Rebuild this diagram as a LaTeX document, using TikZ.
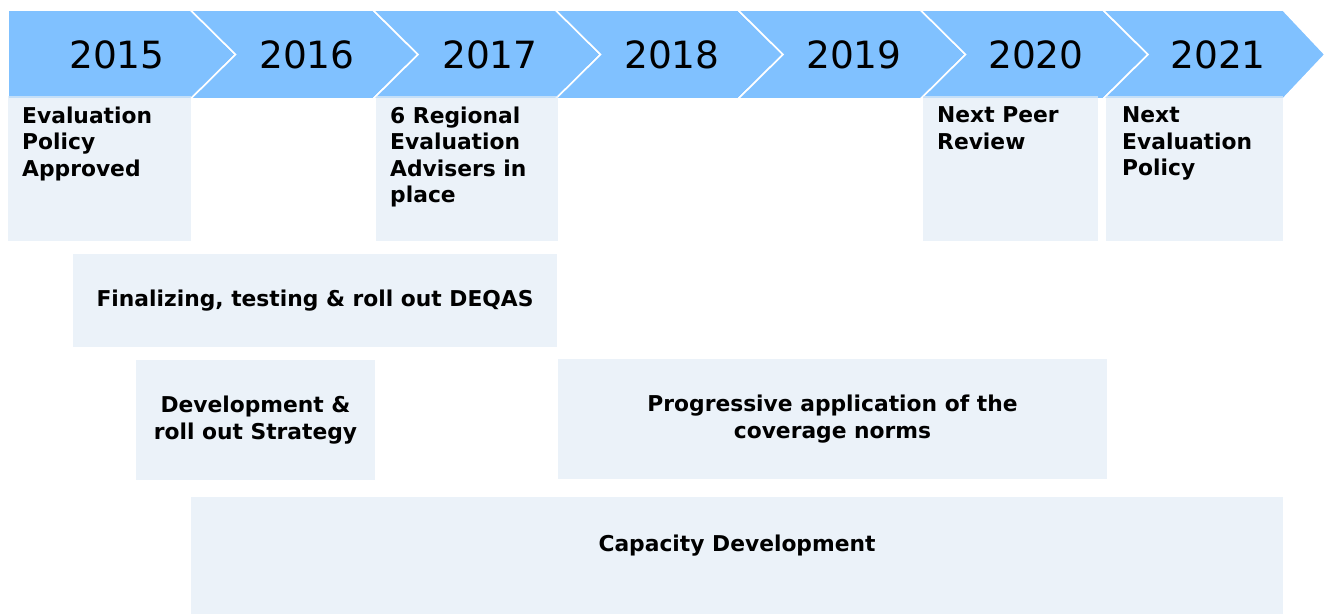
\documentclass[tikz,border=0pt]{standalone}
\usepackage{fontspec}
\setmainfont{DejaVu Sans}
\definecolor{chev}{HTML}{80C1FF}
\definecolor{boxc}{RGB}{226,236,246}
\begin{document}
\begin{tikzpicture}[x=1pt,y=-1pt,
  chevshape/.style={fill=chev,draw=white,line width=1.6pt,line join=miter},
  yearlbl/.style={font=\fontsize{37.5}{40}\selectfont,inner sep=0pt,anchor=center},
  bx/.style={fill=boxc,fill opacity=0.7,draw=none,inner sep=0pt,text opacity=1},
  topbox/.style={bx},
  toptxt/.style={font=\fontsize{21.8}{26.5}\selectfont\bfseries,align=left,inner sep=0pt,anchor=north west},
  midtxt/.style={font=\fontsize{21.8}{26.5}\selectfont\bfseries,align=center,inner sep=0pt}]
\useasboundingbox (0,0) rectangle (1324,614);
% chevrons
\path[chevshape] (8,10) -- (190.5,10) -- (235.5,54.5) -- (190.5,99) -- (8,99) -- cycle;
\foreach \i in {1,...,5}{
  \pgfmathsetmacro{\xa}{8+182.5*\i}
  \pgfmathsetmacro{\xb}{8+182.5*(\i+1)}
  \path[chevshape] (\xa,10) -- (\xb,10) -- ({\xb+45},54.5) -- (\xb,99) -- (\xa,99) -- ({\xa+45},54.5) -- cycle;
}
\path[chevshape] (1103,10) -- (1283,10) -- (1325,54.5) -- (1283,99) -- (1103,99) -- (1148,54.5) -- cycle;
% year labels
\node[yearlbl] (y15) at (117,54.5) {2015};
\node[yearlbl] (y16) at (307,54.5) {2016};
\node[yearlbl] (y17) at (490,54.5) {2017};
\node[yearlbl] (y18) at (672,54.5) {2018};
\node[yearlbl] (y19) at (854,54.5) {2019};
\node[yearlbl] (y20) at (1036,54.5) {2020};
\node[yearlbl] (y21) at (1218,54.5) {2021};
% top boxes
\node[topbox,minimum width=183pt,minimum height=145pt] (b15) at (99.5,168.5) {};
\node[topbox,minimum width=182pt,minimum height=145pt] (b17) at (467,168.5) {};
\node[topbox,minimum width=175pt,minimum height=145pt] (b20) at (1010.5,168.5) {};
\node[topbox,minimum width=177pt,minimum height=145pt] (b21) at (1194.5,168.5) {};
\node[toptxt] (t15) at (22,106.5) {Evaluation\\Policy\\Approved};
\node[toptxt] (t17) at (390,106.5) {6 Regional\\Evaluation\\Advisers in\\place};
\node[toptxt] (t20) at (937,106.5) {Next Peer\\Review};
\node[toptxt] (t21) at (1122,106.5) {Next\\Evaluation\\Policy};
% bars
\node[bx,minimum width=484pt,minimum height=93pt] (fin) at (315,300.5) {};
\node[midtxt] (tfin) at (fin.center) {Finalizing, testing \& roll out DEQAS};
\node[bx,minimum width=239pt,minimum height=120pt] (dev) at (255.5,420) {};
\node[midtxt] (tdev) at (dev.center) {Development \&\\roll out Strategy};
\node[bx,minimum width=549pt,minimum height=120pt] (prog) at (832.5,419) {};
\node[midtxt] (tprog) at (prog.center) {Progressive application of the\\coverage norms};
\node[bx,minimum width=1092pt,minimum height=117pt] (cap) at (737,555.5) {};
\node[midtxt] (tcap) at (737,545.5) {Capacity Development};
\end{tikzpicture}
\end{document}
